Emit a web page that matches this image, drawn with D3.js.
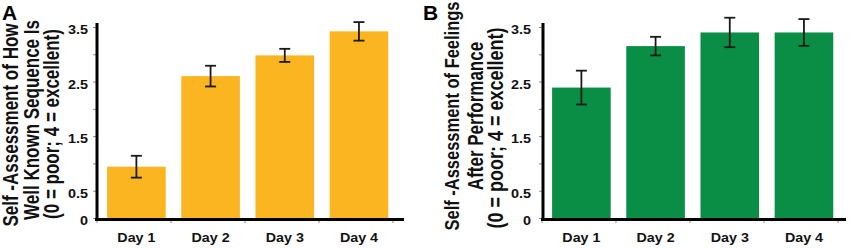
<!DOCTYPE html>
<html>
<head>
<meta charset="utf-8">
<script src="https://cdn.jsdelivr.net/npm/d3@7"></script>
<style>
  html, body { margin: 0; padding: 0; background: #fff; }
  svg { display: block; font-family: "Liberation Sans", Arial, sans-serif; font-weight: bold; }
</style>
</head>
<body>
<svg id="chart" width="850" height="248"></svg>
<script>
// ---- data ----
const days = ["Day 1", "Day 2", "Day 3", "Day 4"];
const knownMean = [0.94, 2.60, 2.98, 3.42];
const knownErr = [0.20, 0.19, 0.12, 0.17];
const feelMean = [2.39, 3.15, 3.40, 3.40];
const feelErr = [0.31, 0.17, 0.27, 0.245];
const yTicks = [0, 0.5, 1, 1.5, 2, 2.5, 3, 3.5];
const yTickLabels = ["0", "0.5", "", "1.5", "", "2.5", "", "3.5"];

const svg = d3.select("#chart");

const y = d3.scaleLinear().domain([0, 3.5]).range([218, 27]);

const panels = [
  {
    letter: "A", letterX: 2,
    axisX: 97, xRange: [97, 393], xEnd: 404, labelX: 88,
    color: "#fbb520",
    means: knownMean, errs: knownErr,
    title: ["Self -Assessment of How", "Well Known Sequence Is", "(0 = poor; 4 = excellent)"],
    titleX: [17.5, 38.5, 58.5], titleY: [125, 120, 124], titleSize: [17, 17, 17]
  },
  {
    letter: "B", letterX: 423,
    axisX: 543, xRange: [542, 838], xEnd: 846, labelX: 531,
    color: "#0a8e46",
    means: feelMean, errs: feelErr,
    title: ["Self -Assessment of Feelings", "After Performance", "(0 = poor; 4 = excellent)"],
    titleX: [459, 483, 503], titleY: [116, 116, 128], titleSize: [16.5, 17, 18]
  }
];

panels.forEach(p => {
  const g = svg.append("g");

  const x = d3.scaleBand()
    .domain(days)
    .range(p.xRange)
    .paddingInner(0.21)
    .paddingOuter(0.1)
    .align(0.68);

  // bars
  g.append("g").selectAll("rect")
    .data(days)
    .join("rect")
      .attr("x", d => x(d))
      .attr("width", x.bandwidth())
      .attr("y", (d, i) => y(p.means[i]))
      .attr("height", (d, i) => y(0) - y(p.means[i]))
      .attr("fill", p.color);

  // error bars
  const eb = g.append("g")
    .attr("stroke", "#1a1a1a")
    .attr("stroke-width", 1.8)
    .selectAll("g")
    .data(days)
    .join("g")
      .attr("transform", d => `translate(${x(d) + x.bandwidth() / 2},0)`);
  eb.append("line")
    .attr("y1", (d, i) => y(p.means[i] + p.errs[i]))
    .attr("y2", (d, i) => y(p.means[i] - p.errs[i]));
  eb.append("line")
    .attr("x1", -5.5).attr("x2", 5.5)
    .attr("y1", (d, i) => y(p.means[i] + p.errs[i]))
    .attr("y2", (d, i) => y(p.means[i] + p.errs[i]));
  eb.append("line")
    .attr("x1", -5.5).attr("x2", 5.5)
    .attr("y1", (d, i) => y(p.means[i] - p.errs[i]))
    .attr("y2", (d, i) => y(p.means[i] - p.errs[i]));

  // y axis ticks
  const yAxis = g.append("g")
    .attr("transform", `translate(${p.axisX - 1},0)`)
    .call(d3.axisLeft(y).tickValues(yTicks).tickSize(3).tickFormat(""));
  yAxis.select(".domain").remove();
  yAxis.selectAll("line").attr("stroke", "#888");

  // x axis ticks at band boundaries
  const step = (p.xRange[1] - p.xRange[0]) / days.length;
  g.append("g").selectAll("line")
    .data(d3.range(days.length + 1))
    .join("line")
      .attr("x1", i => p.xRange[0] + i * step)
      .attr("x2", i => p.xRange[0] + i * step)
      .attr("y1", 220)
      .attr("y2", 223)
      .attr("stroke", "#888");

  // axis lines
  g.append("line")
    .attr("x1", p.axisX).attr("x2", p.axisX)
    .attr("y1", 23).attr("y2", 220.5)
    .attr("stroke", "#000").attr("stroke-width", 3);
  g.append("line")
    .attr("x1", p.axisX - 2).attr("x2", p.xEnd)
    .attr("y1", 219.5).attr("y2", 219.5)
    .attr("stroke", "#000").attr("stroke-width", 3);

  // y tick labels
  g.append("g").selectAll("text")
    .data(yTicks)
    .join("text")
      .attr("transform", d => `translate(${p.labelX},${y(d) + 7}) scale(1.2,1)`)
      .attr("text-anchor", "end")
      .attr("font-size", 12)
      .attr("fill", "#111")
      .text((d, i) => yTickLabels[i]);

  // x tick labels
  g.append("g").selectAll("text")
    .data(days)
    .join("text")
      .attr("transform", d => `translate(${x(d) + x.bandwidth() / 2},242) scale(1.1,1)`)
      .attr("text-anchor", "middle")
      .attr("font-size", 13)
      .attr("fill", "#111")
      .text(d => d);

  // y titles
  g.append("g").selectAll("text")
    .data(p.title)
    .join("text")
      .attr("transform", (d, i) => `translate(${p.titleX[i]},${p.titleY[i]}) scale(1.25,1) rotate(-90)`)
      .attr("text-anchor", "middle")
      .attr("font-size", (d, i) => p.titleSize[i])
      .attr("fill", "#111")
      .text(d => d);

  // panel letter
  g.append("text")
    .attr("x", p.letterX)
    .attr("y", 20)
    .attr("font-size", 21)
    .attr("fill", "#000")
    .text(p.letter);
});
</script>
</body>
</html>
